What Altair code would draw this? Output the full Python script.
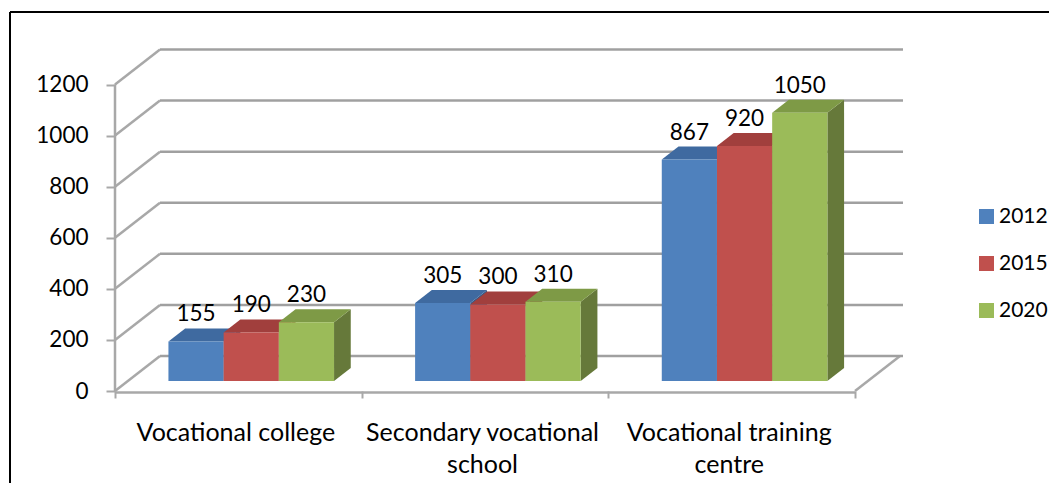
import altair as alt
import pandas as pd

# ---- data ----
categories = ["Vocational college", "Secondary vocational\nschool", "Vocational training\ncentre"]
years = ["2012", "2015", "2020"]
values_2012 = [155, 305, 867]
values_2015 = [190, 300, 920]
values_2020 = [230, 310, 1050]
y_ticks = [0, 200, 400, 600, 800, 1000, 1200]
front_colors = ["#4F81BD", "#C0504D", "#9BBB59"]
top_colors = ["#3F6AA0", "#A13F3D", "#7E9A46"]
side_colors = ["#355A88", "#8A3634", "#66793A"]
FONT = "Lato"
FS = 22.5
FS_CAT = 25
FS_LEG = 21
GRID = "#A8A8A8"

# ---- projection of the box: units of the two scales ----
PX_X = 246.67      # pixels per category
PX_Y = 0.2554      # pixels per value unit
W, H = 788, 342
X_MAX, Y_MAX = W / PX_X, H / PX_Y
DX, DY = 45 / PX_X, 35 / PX_Y    # wall depth
BAR_W = 55.2 / PX_X
GAP = 0.1645
D_FRONT, D_BACK = 10 / 35, 23 / 35

series = [values_2012, values_2015, values_2020]
fronts, tops, sides, labels = [], [], [], []
for j, (yr, vals) in enumerate(zip(years, series)):
    for i, v in enumerate(vals):
        x0 = i + GAP + j * BAR_W + D_FRONT * DX
        x1 = x0 + BAR_W
        bot = D_FRONT * DY
        top = bot + v
        ddx, ddy = (D_BACK - D_FRONT) * DX, (D_BACK - D_FRONT) * DY
        fronts.append(dict(year=yr, x=x0, x2=x1, y=bot, y2=top))
        labels.append(dict(x=(x0 + x1) / 2, y=top, t=str(v)))
        k = f"{yr}-{i}"
        tops += [
            dict(year=yr, k=k, x=x0, y=top, y2=top),
            dict(year=yr, k=k, x=x0 + ddx, y=top + ddy, y2=top),
            dict(year=yr, k=k, x=x1, y=top + ddy, y2=top),
            dict(year=yr, k=k, x=x1 + ddx, y=top + ddy, y2=top + ddy),
        ]
        sides += [
            dict(year=yr, k=k, x=x1, y=top, y2=bot),
            dict(year=yr, k=k, x=x1 + ddx, y=top + ddy, y2=bot + ddy),
        ]
fronts, tops, sides, labels = map(pd.DataFrame, (fronts, tops, sides, labels))

xs = alt.Scale(domain=[0, X_MAX], nice=False, zero=False)
ys = alt.Scale(domain=[0, Y_MAX], nice=False, zero=False)
X = alt.X("x:Q", scale=xs, title=None,
          axis=alt.Axis(values=[0, 1, 2, 3], labels=False, domain=False, grid=False,
                        tickColor=GRID, tickWidth=2, tickSize=7))
Y = alt.Y("y:Q", scale=ys, title=None,
          axis=alt.Axis(values=y_ticks, domain=False, grid=False, tickColor=GRID, tickWidth=2,
                        tickSize=9, labelFont=FONT, labelFontSize=FS, labelColor="#000000",
                        labelPadding=18, format="d"))
X0 = alt.X("x:Q", scale=xs)
Y0 = alt.Y("y:Q", scale=ys)

# walls and floor
walls = pd.DataFrame(
    [dict(x=0, x2=DX, y=v, y2=v + DY) for v in y_ticks] + [dict(x=3, x2=3 + DX, y=0, y2=DY)]
)
backs = pd.DataFrame([dict(x=DX, x2=X_MAX, y=v + DY, y2=v + DY) for v in y_ticks])
rule_kw = dict(color=GRID, strokeWidth=2.5)
wall_layer = alt.Chart(walls).mark_rule(**rule_kw).encode(x=X, y=Y, x2="x2:Q", y2="y2:Q")
back_layer = alt.Chart(backs).mark_rule(color="#A0A0A0", strokeWidth=2.5).encode(x=X0, y=Y0, x2="x2:Q", y2="y2:Q")
axis_v = alt.Chart(pd.DataFrame([dict(x=0, y=0, y2=1200)])).mark_rule(**rule_kw).encode(x=X0, y=Y0, y2="y2:Q")
axis_h = alt.Chart(pd.DataFrame([dict(x=0, x2=3, y=0)])).mark_rule(yOffset=1.5, **rule_kw).encode(x=X0, x2="x2:Q", y=Y0)

side_layers = [
    alt.Chart(sides[sides.year == yr]).mark_area(color=c, interpolate="linear", orient="vertical")
    .encode(x=X0, y=Y0, y2="y2:Q", detail="k:N")
    for yr, c in zip(years, side_colors)
]
top_layers = [
    alt.Chart(tops[tops.year == yr]).mark_area(color=c, interpolate="linear", orient="vertical")
    .encode(x=X0, y=Y0, y2="y2:Q", detail="k:N")
    for yr, c in zip(years, top_colors)
]
front_layer = alt.Chart(fronts).mark_rect().encode(
    x=X0, x2="x2:Q", y=Y0, y2="y2:Q",
    color=alt.Color("year:N", scale=alt.Scale(domain=years, range=front_colors),
                    legend=alt.Legend(title=None, orient="none", legendX=861, legendY=157,
                                      symbolType="square", symbolSize=225, symbolStrokeWidth=0,
                                      labelFont=FONT, labelFontSize=FS_LEG, labelColor="#000000",
                                      labelOffset=2, rowPadding=25, padding=0)),
)
value_labels = alt.Chart(labels).mark_text(font=FONT, fontSize=FS, color="#000000", dy=-27, baseline="middle").encode(
    x=X0, y=Y0, text="t:N"
)
cat_df = pd.DataFrame(dict(x=[0.49, 1.49, 2.49], y=[-196, -196, -196], t=categories))
cat_labels = alt.Chart(cat_df).mark_text(font=FONT, fontSize=FS_CAT, color="#000000", lineBreak="\n", lineHeight=32,
                                         baseline="alphabetic").encode(x=X0, y=Y0, text="t:N")

# outer frame of the picture
frame = [
    alt.Chart(pd.DataFrame(dict(a=[0]))).mark_rule(color="#000000", strokeWidth=2).encode(
        x=alt.value(-105), x2=alt.value(942), y=alt.value(-37), y2=alt.value(-37)),
    alt.Chart(pd.DataFrame(dict(a=[0]))).mark_rule(color="#000000", strokeWidth=2).encode(
        x=alt.value(-105), x2=alt.value(-105), y=alt.value(-37), y2=alt.value(442)),
]

chart = alt.layer(
    wall_layer, back_layer, axis_v, axis_h, *side_layers, *top_layers, front_layer, value_labels, cat_labels, *frame
).properties(
    width=W, height=H, autosize="none", background="#FFFFFF",
    padding={"left": 107, "top": 41, "right": 146, "bottom": 92}
).configure_view(strokeWidth=0)

chart.save("out.html", embed_options={"renderer": "svg", "actions": False})
